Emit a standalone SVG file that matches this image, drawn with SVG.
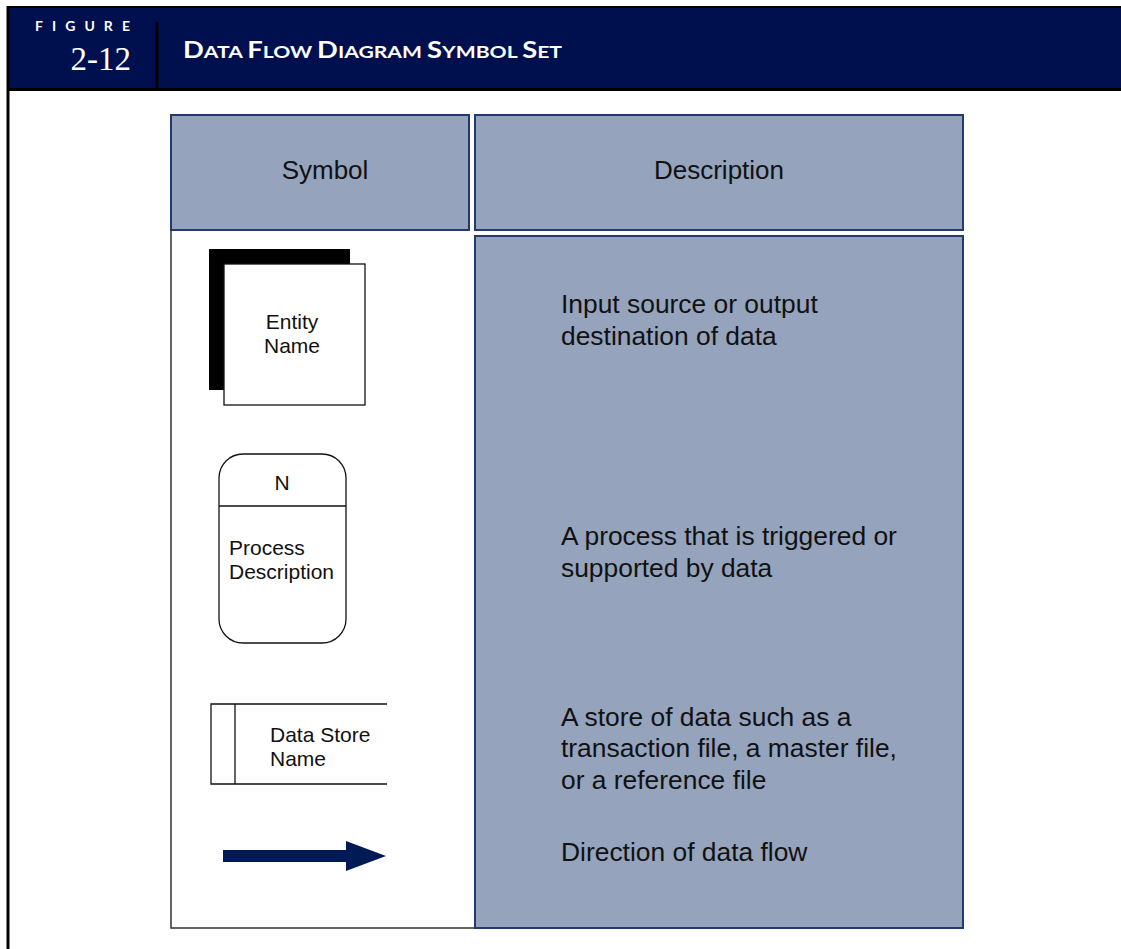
<svg xmlns="http://www.w3.org/2000/svg" width="1121" height="949" viewBox="0 0 1121 949">
<style>
.t{font-family:"Liberation Sans",Arial,sans-serif;fill:#111}
.cell{fill:#95A3BD;stroke:#243A6C;stroke-width:2}
.sym{fill:#fff;stroke:#111;stroke-width:1.3}
.hd{font-family:Lato,"Open Sans",sans-serif;font-weight:bold;fill:#fff}
</style>
<rect width="1121" height="949" fill="#fff"/>
<g id="header">
<rect x="8" y="7" width="1113" height="83" fill="#00104F"/>
<line x1="7" y1="7" x2="1121" y2="7" stroke="#000" stroke-width="2"/>
<line x1="7" y1="89.5" x2="1121" y2="89.5" stroke="#000" stroke-width="3"/>
<line x1="8" y1="6" x2="8" y2="949" stroke="#000" stroke-width="3"/>
<line x1="157" y1="22" x2="157" y2="89" stroke="#000" stroke-width="3"/>
<text class="hd" x="35" y="31" font-size="14" textLength="95" lengthAdjust="spacing">FIGURE</text>
<text x="131" y="70" text-anchor="end" font-family="'Liberation Serif',serif" font-size="33" fill="#fff">2-12</text>
<text class="hd" x="183" y="58" font-size="17" textLength="379" lengthAdjust="spacingAndGlyphs"><tspan font-size="22">D</tspan>ATA <tspan font-size="22">F</tspan>LOW <tspan font-size="22">D</tspan>IAGRAM <tspan font-size="22">S</tspan>YMBOL <tspan font-size="22">S</tspan>ET</text>
</g>
<g id="table">
<rect class="cell" x="171" y="115" width="298" height="115"/>
<rect class="cell" x="475" y="115" width="488" height="115"/>
<rect class="cell" x="475" y="236" width="488" height="692"/>
<polyline points="171,230 171,928 475,928" fill="none" stroke="#333" stroke-width="1.5"/>
<text class="t" x="325" y="179" font-size="26" text-anchor="middle">Symbol</text>
<text class="t" x="719" y="179" font-size="26" text-anchor="middle">Description</text>
<text class="t" x="561" y="313" font-size="26.4">Input source or output</text>
<text class="t" x="561" y="345" font-size="26.4">destination of data</text>
<text class="t" x="561" y="545" font-size="26.4">A process that is triggered or</text>
<text class="t" x="561" y="577" font-size="26.4">supported by data</text>
<text class="t" x="561" y="726" font-size="26.4">A store of data such as a</text>
<text class="t" x="561" y="757" font-size="26.4">transaction file, a master file,</text>
<text class="t" x="561" y="789" font-size="26.4">or a reference file</text>
<text class="t" x="561" y="861" font-size="26.4">Direction of data flow</text>
</g>
<g id="entity">
<rect x="209" y="249" width="141" height="141" fill="#000"/>
<rect class="sym" x="224" y="264" width="141" height="141"/>
<text class="t" x="292" y="329" font-size="21" text-anchor="middle">Entity</text>
<text class="t" x="292" y="353" font-size="21" text-anchor="middle">Name</text>
</g>
<g id="process">
<rect class="sym" x="219" y="454" width="127" height="189" rx="24"/>
<line x1="219" y1="506" x2="346" y2="506" stroke="#111" stroke-width="1.3"/>
<text class="t" x="282" y="490" font-size="21" text-anchor="middle">N</text>
<text class="t" x="229" y="555" font-size="21">Process</text>
<text class="t" x="229" y="579" font-size="21">Description</text>
</g>
<g id="datastore">
<polyline points="387,704 211,704 211,784 387,784" fill="none" stroke="#111" stroke-width="1.3"/>
<line x1="235" y1="704" x2="235" y2="784" stroke="#111" stroke-width="1.3"/>
<text class="t" x="270" y="742" font-size="21">Data Store</text>
<text class="t" x="270" y="766" font-size="21">Name</text>
</g>
<g id="connectors">
<polygon points="223,850 346,850 346,841 386,856 346,871 346,862 223,862" fill="#001A55"/>
</g>
</svg>
